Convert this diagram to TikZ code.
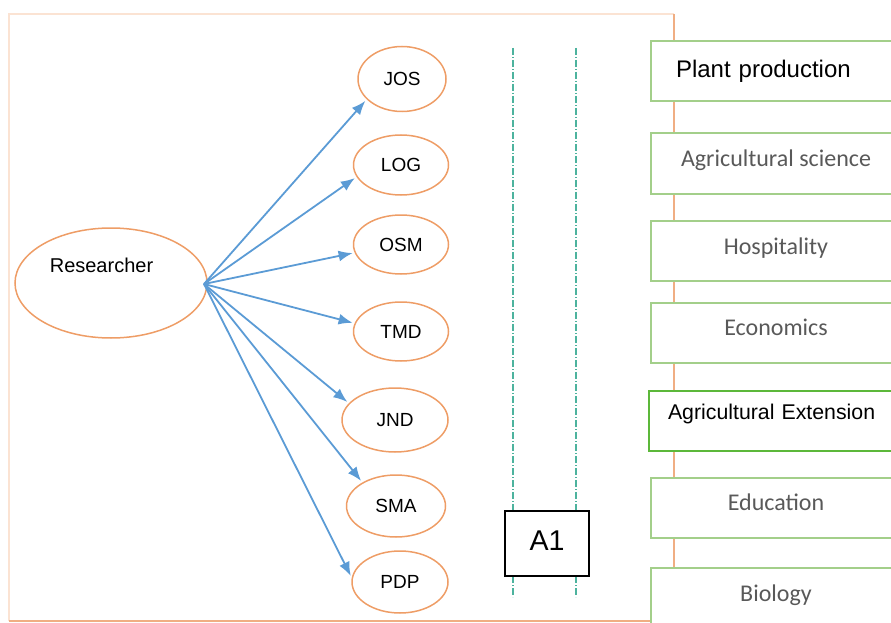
\documentclass[tikz,border=0pt]{standalone}
\usepackage{fontspec}
\setmainfont{Liberation Sans}
\newfontfamily\calibrifont{Carlito}
\usetikzlibrary{arrows.meta, shapes.geometric}
\definecolor{EllOrange}{HTML}{EE9D66}
\definecolor{FrameFaint}{HTML}{FBE3D3}
\definecolor{FrameOrange}{HTML}{F0AE83}
\definecolor{ArrowBlue}{HTML}{5B9BD5}
\definecolor{BoxGreen}{HTML}{A3CF8A}
\definecolor{ExtGreen}{HTML}{5CB83A}
\definecolor{TextGray}{HTML}{595959}
\definecolor{TealDash}{HTML}{4DB39E}
\tikzset{
  >=latex,
  % ellissi
  node code/.style={ellipse,draw=EllOrange,line width=1.5,inner sep=0,minimum width=95,minimum height=60,font=\fontsize{19}{22}\selectfont},
  node main/.style={node code,minimum width=192,minimum height=110},
  % riquadri a destra
  field box/.style={rectangle,draw=BoxGreen,line width=2,fill=white,anchor=west,minimum width=250,minimum height=60,inner ysep=1,text height=18pt,text depth=11.5pt,text=TextGray,font=\calibrifont\fontsize{24}{28}\selectfont},
  % frecce
  connect arrow/.style={-{Latex[length=14,width=11]},line width=1.8,ArrowBlue,shorten >=2},
  guide/.style={TealDash,line width=1.5,dash pattern=on 7pt off 2pt on 1pt off 2pt}
}
\begin{document}
\begin{tikzpicture}[x=1pt,y=-1pt]
    \useasboundingbox (0,0) rectangle (891,623);
    \clip (0,0) rectangle (891,623);
    % cornice
    \draw[FrameFaint,line width=1.5](9,621)--(9,14)--(674,14);
    \draw[FrameOrange,line width=2](674,14)--(674,621)--(9,621);
    % linee tratteggiate
    \draw[guide](513,48)--(513,597);
    \draw[guide](576,48)--(576,597);
    % ricercatore
    \node[node main] (res) at (111,283) {};
    \node[font=\fontsize{20}{24}\selectfont] (res label) at (101.5,265.5) {Researcher};
    \coordinate (hub) at (204,284);
    % codici
    \node[node code,minimum width=88,minimum height=65] (jos) at (402,79) {JOS};
    \node[node code] (log) at (401,165) {LOG};
    \node[node code,minimum height=59] (osm) at (401,244.5) {OSM};
    \node[node code,minimum height=59] (tmd) at (401,331.5) {TMD};
    \node[node code,minimum width=106,minimum height=64] (jnd) at (395,420) {JND};
    \node[node code,minimum width=99,minimum height=62] (sma) at (396,506) {SMA};
    \node[node code,minimum width=96,minimum height=62] (pdp) at (400,582) {PDP};
    \draw[connect arrow](hub)--(jos.210);
    \draw[connect arrow](hub)--(log.195);
    \draw[connect arrow](hub)--(osm.190);
    \draw[connect arrow](hub)--(tmd.170);
    \draw[connect arrow](hub)--(jnd.160);
    \draw[connect arrow](hub)--(sma.145);
    \draw[connect arrow](hub)--(pdp.175);
    % A1
    \node[draw=black,line width=1.5,fill=white,minimum width=84,minimum height=65,inner sep=1,
      font=\fontsize{28.6}{32}\selectfont,text height=20pt,text depth=6.6pt] (a1) at (547,543.5) {A1};
    % discipline
    \node[field box,text=black,font=\fontsize{24}{28}\selectfont,align=left,text width=200,
      inner xsep=25,text height=18pt,text depth=4pt] (plant) at (650,71) {Plant production};
    \node[field box] (agri) at (650,163.5) {Agricultural science};
    \node[field box] (hosp) at (650,251) {Hospitality};
    \node[field box] (econ) at (650,332.5) {Economics};
    \node[field box,draw=ExtGreen,text=black,font=\fontsize{21.3}{25}\selectfont,align=left,text width=212,
      inner xsep=19,text height=16pt,text depth=18pt] (ext) at (648,420.5) {Agricultural Extension};
    \node[field box] (edu) at (650,507.5) {Education};
    \node[field box] (bio) at (650,598) {Biology};
\end{tikzpicture}
\end{document}
